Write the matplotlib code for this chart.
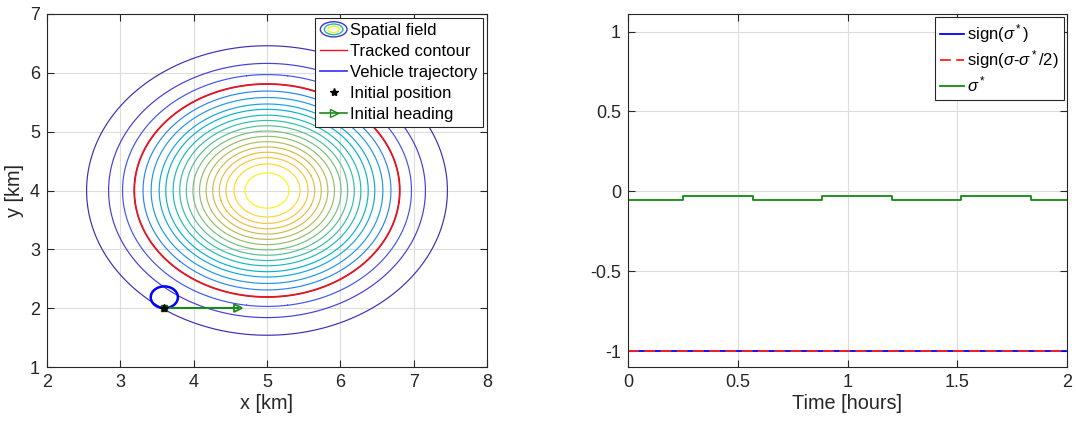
import numpy as np
import matplotlib
matplotlib.use("Agg")
import matplotlib.pyplot as plt
from matplotlib.colors import LinearSegmentedColormap
from matplotlib.legend_handler import HandlerBase
from matplotlib.patches import Ellipse
from matplotlib.lines import Line2D

plt.rcParams['font.family'] = ['Liberation Sans', 'DejaVu Sans']
plt.rcParams['mathtext.fontset'] = 'custom'
plt.rcParams['mathtext.rm'] = 'Liberation Sans'
plt.rcParams['mathtext.it'] = 'Liberation Sans:italic'

# ---- spatial field (radial level sets around the field peak) ----
field_center = (5.0, 4.0)
contour_radii = [2.46, 2.16, 1.97, 1.81, 1.69, 1.58, 1.47, 1.38, 1.28, 1.19,
                 1.10, 1.01, 0.92, 0.83, 0.74, 0.65, 0.56, 0.45, 0.30]
tracked_radius = 1.81

# ---- vehicle ----
initial_position = (3.6, 2.0)
heading_length = 1.0
turn_radius = 0.185

# ---- time series ----
t_sign = [0.0, 0.0, 2.0]
sign_sigma_star = [1.0, -1.0, -1.0]
t_sign_half = [0.0, 2.0]
sign_sigma_half = [-1.0, -1.0]
t_sigma = [0.0, 0.0, 0.25, 0.568, 0.884, 1.202, 1.518, 1.836, 2.0]
sigma_star = [0.0, -0.055, -0.03, -0.055, -0.03, -0.055, -0.03, -0.055, -0.055]

parula = LinearSegmentedColormap.from_list("parula", [
    (0.00, (0.2422, 0.1504, 0.6603)),
    (0.10, (0.2803, 0.2782, 0.9221)),
    (0.20, (0.1900, 0.4700, 0.9800)),
    (0.30, (0.1100, 0.6100, 0.8900)),
    (0.40, (0.0300, 0.7000, 0.8000)),
    (0.50, (0.2000, 0.7500, 0.6500)),
    (0.60, (0.4420, 0.7481, 0.5033)),
    (0.70, (0.6760, 0.7390, 0.3510)),
    (0.80, (0.8900, 0.7270, 0.2630)),
    (0.90, (0.9900, 0.8000, 0.2000)),
    (1.00, (0.9763, 0.9831, 0.0538)),
])

GRID = '#dcdcdc'
AX = '#262626'


class FieldHandle:
    pass


class FieldHandler(HandlerBase):
    def create_artists(self, legend, orig_handle, xdescent, ydescent,
                       width, height, fontsize, trans):
        cx = width / 2 - xdescent
        cy = height / 2 - ydescent
        arts = []
        for s, c in [(1.0, parula(0.05)), (0.7, parula(0.45)), (0.42, parula(0.98))]:
            e = Ellipse((cx, cy), width * s, height * 1.3 * s, fill=False,
                        edgecolor=c, lw=1.0, transform=trans)
            arts.append(e)
        return arts


def style_axes(ax):
    ax.grid(True, color=GRID, lw=0.8)
    ax.set_axisbelow(True)
    for sp in ax.spines.values():
        sp.set_color(AX)
        sp.set_linewidth(0.8)
    ax.tick_params(direction='in', top=True, right=True, length=5,
                   width=0.8, color=AX, labelcolor=AX, labelsize=13, pad=5)


fig = plt.figure(figsize=(10.76, 4.25), dpi=100)
ax1 = fig.add_axes([47 / 1076, 58 / 425, 440 / 1076, 353 / 425])
ax2 = fig.add_axes([628 / 1076, 58 / 425, 439 / 1076, 353 / 425])

# ---- left panel ----
x = np.linspace(2, 8, 601)
y = np.linspace(1, 7, 601)
X, Y = np.meshgrid(x, y)
R = np.hypot(X - field_center[0], Y - field_center[1])
radii_sorted = sorted(contour_radii)
n = len(radii_sorted)
# innermost level -> top of the colormap, outermost -> bottom
cols = [parula(0.98 - 0.96 * i / (n - 1)) for i in range(n)]
ax1.contour(X, Y, R, levels=radii_sorted, colors=cols, linewidths=0.85)
ax1.contour(X, Y, R, levels=[tracked_radius], colors=['#e8141e'], linewidths=1.3)

th = np.linspace(0, 2 * np.pi, 300)
cxv = initial_position[0]
cyv = initial_position[1] + turn_radius
ax1.plot(cxv + turn_radius * np.sin(th), cyv - turn_radius * np.cos(th),
         color='#0000ff', lw=1.8)
ax1.plot([initial_position[0], initial_position[0] + heading_length],
         [initial_position[1], initial_position[1]], color='#1a8a1a', lw=1.5)
ax1.plot([initial_position[0] + heading_length], [initial_position[1]],
         marker='>', ms=6, mfc='none', mec='#1a8a1a', mew=1.3)
ax1.plot([initial_position[0]], [initial_position[1]], marker='s', ms=5,
         color='#1a6a1a', ls='none')
ax1.plot([initial_position[0]], [initial_position[1]], marker='*', ms=6,
         color='black', ls='none')

ax1.set_xlim(2, 8)
ax1.set_ylim(1, 7)
ax1.set_xticks(range(2, 9))
ax1.set_yticks(range(1, 8))
ax1.set_xlabel('x [km]', fontsize=14.3, color=AX, labelpad=2)
ax1.set_ylabel('y [km]', fontsize=14.3, color=AX, labelpad=4)
style_axes(ax1)

h_field = FieldHandle()
h_track = Line2D([], [], color='#e8141e', lw=1.0)
h_traj = Line2D([], [], color='#3030ff', lw=1.2)
h_init = Line2D([], [], color='black', marker='*', ls='none', ms=6)
h_head = Line2D([], [], color='#1a8a1a', marker='>', mfc='none', ms=6, lw=1.2)
leg1 = ax1.legend([h_field, h_track, h_traj, h_init, h_head],
                  ['Spatial field', 'Tracked contour', 'Vehicle trajectory',
                   'Initial position', 'Initial heading'],
                  handler_map={FieldHandle: FieldHandler()},
                  loc='upper right', fontsize=12, frameon=True, fancybox=False,
                  framealpha=1, edgecolor=AX, borderaxespad=0.25,
                  handlelength=1.6, handletextpad=0.2, labelspacing=0.35,
                  borderpad=0.3, numpoints=1)
leg1.get_frame().set_linewidth(0.8)

# ---- right panel ----
ax2.plot(t_sign, sign_sigma_star, color='#0000ff', lw=1.3,
         label=r'sign($\sigma^*$)')
ax2.plot(t_sign_half, sign_sigma_half, color='#ff2020', lw=1.3,
         dashes=(6, 3), label=r'sign($\sigma$-$\sigma^*$/2)')
ax2.plot(t_sigma, sigma_star, color='#108a10', lw=1.3, drawstyle='steps-post',
         label=r'$\sigma^*$')
ax2.set_xlim(0, 2)
ax2.set_ylim(-1.1, 1.11)
ax2.set_xticks([0, 0.5, 1, 1.5, 2])
ax2.set_xticklabels(['0', '0.5', '1', '1.5', '2'])
ax2.set_yticks([-1, -0.5, 0, 0.5, 1])
ax2.set_yticklabels(['-1', '-0.5', '0', '0.5', '1'])
ax2.set_xlabel('Time [hours]', fontsize=14.3, color=AX, labelpad=2)
style_axes(ax2)
leg2 = ax2.legend(loc='upper right', fontsize=12, frameon=True, fancybox=False,
                  framealpha=1, edgecolor=AX, borderaxespad=0.2,
                  handlelength=1.4, handletextpad=0.2, labelspacing=0.2,
                  borderpad=0.3)
leg2.get_frame().set_linewidth(0.8)

fig.savefig('out.png', dpi=100)
